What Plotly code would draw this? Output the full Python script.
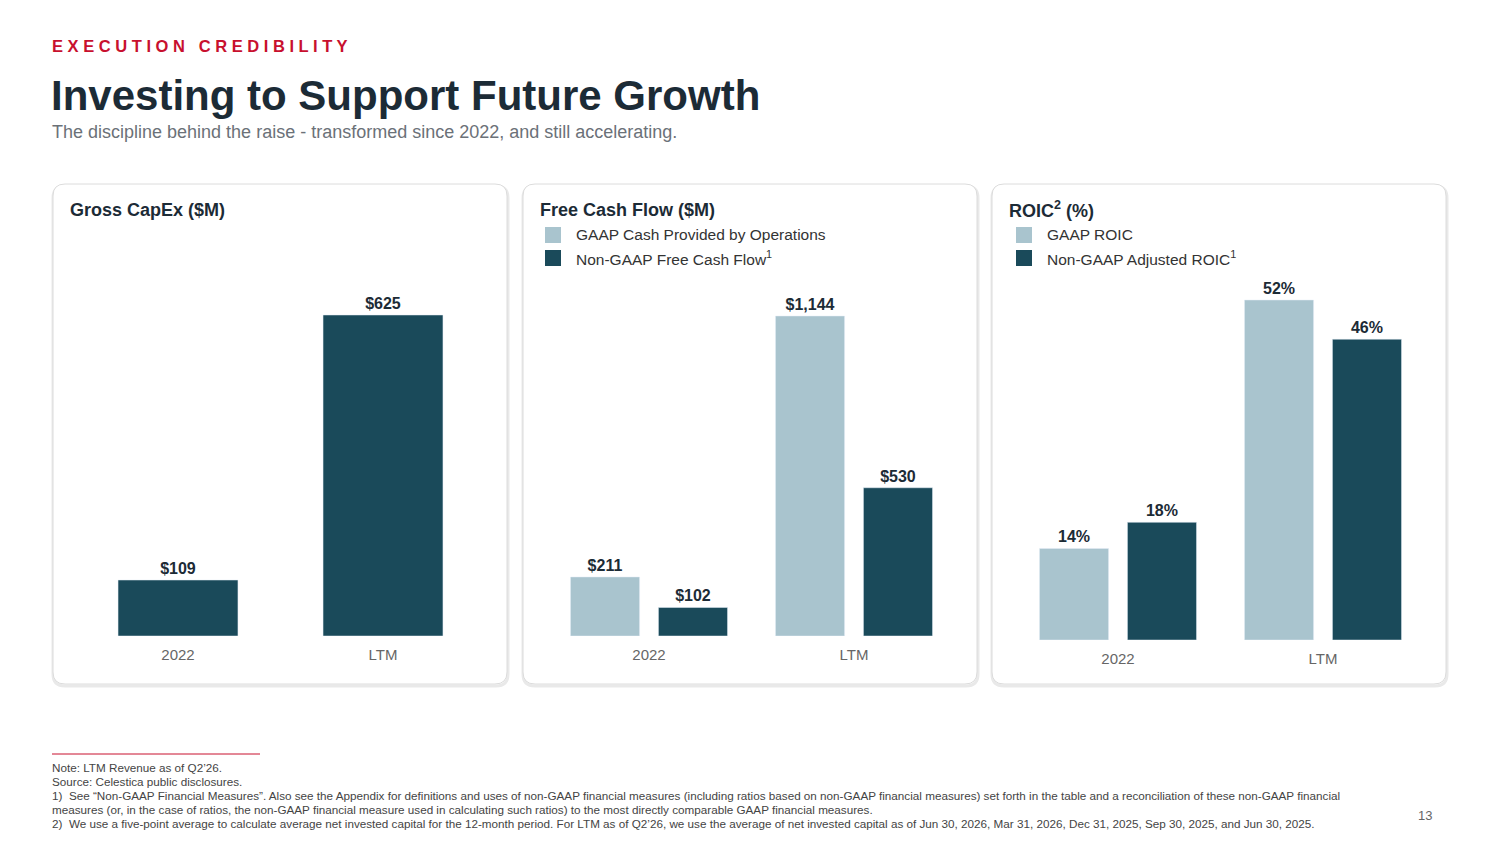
import plotly.graph_objects as go

W, H = 1500, 844
OFF = 8
categories = ["2022", "LTM"]
capex = [109, 625]
fcf_gaap = [211, 1144]
fcf_nongaap = [102, 530]
roic_gaap = [14, 52]
roic_nongaap = [18, 46]
capex_labels = ["$109", "$625"]
fcf_gaap_labels = ["$211", "$1,144"]
fcf_nongaap_labels = ["$102", "$530"]
roic_gaap_labels = ["14%", "52%"]
roic_nongaap_labels = ["18%", "46%"]

DARK = "#1a4a5a"
LIGHT = "#a9c4ce"
FONT = "Liberation Sans, Arial, sans-serif"

def px(x): return (x - OFF) / W
def py(y): return 1 - (y - OFF) / H

fig = go.Figure()
lab = dict(size=16, color="#1c2b36", family=FONT)

fig.add_trace(go.Bar(x=categories, y=capex, marker_color=DARK, width=0.585,
                     text=[f"<b>{s}</b>" for s in capex_labels], textposition="outside", textfont=lab,
                     cliponaxis=False, xaxis="x", yaxis="y"))
for vals, labels, col, off, xa, ya in [
    (fcf_gaap, fcf_gaap_labels, LIGHT, -0.383, "x2", "y2"),
    (fcf_nongaap, fcf_nongaap_labels, DARK, 0.046, "x2", "y2"),
    (roic_gaap, roic_gaap_labels, LIGHT, -0.383, "x3", "y3"),
    (roic_nongaap, roic_nongaap_labels, DARK, 0.046, "x3", "y3"),
]:
    fig.add_trace(go.Bar(x=categories, y=vals, marker_color=col, width=0.337, offset=off,
                         text=[f"<b>{s}</b>" for s in labels], textposition="outside", textfont=lab,
                         cliponaxis=False, xaxis=xa, yaxis=ya))

def xax(d0, d1, anchor):
    return dict(domain=[px(d0), px(d1)], type="category", range=[-0.5, 1.5], anchor=anchor,
                showgrid=False, zeroline=False, showline=False, ticks="",
                tickfont=dict(size=15, color="#666", family=FONT), ticklabelstandoff=8)
def yax(b, t, mx, anchor):
    return dict(domain=[py(b), py(t)], range=[0, mx], visible=False, fixedrange=True, anchor=anchor)

fig.update_layout(
    width=W, height=H, margin=dict(l=0, r=0, t=0, b=0), showlegend=False,
    paper_bgcolor="white", plot_bgcolor="rgba(0,0,0,0)", barmode="overlay",
    font=dict(family=FONT),
    xaxis=xax(75.5, 485.5, "y"), yaxis=yax(636, 290, 625 * 346 / 321, "x"),
    xaxis2=xax(546.5, 956.5, "y2"), yaxis2=yax(636, 290, 1144 * 346 / 320, "x2"),
    xaxis3=xax(1015.5, 1425.5, "y3"), yaxis3=yax(640, 290, 52 * 350 / 340, "x3"),
)

def rrect(x0, y0, x1, y1, r):
    X0, X1 = px(x0), px(x1); Y0, Y1 = py(y0), py(y1)
    rx, ry = r / W, r / H
    return (f"M{X0+rx},{Y0} L{X1-rx},{Y0} Q{X1},{Y0} {X1},{Y0-ry} L{X1},{Y1+ry} "
            f"Q{X1},{Y1} {X1-rx},{Y1} L{X0+rx},{Y1} Q{X0},{Y1} {X0},{Y1+ry} "
            f"L{X0},{Y0-ry} Q{X0},{Y0} {X0+rx},{Y0} Z")

shapes = []
for x0 in [53, 523, 992]:
    shapes.append(dict(type="path", xref="paper", yref="paper", path=rrect(x0, 186, x0 + 455, 686, 12),
                       line=dict(color="#e9e9e9", width=3), fillcolor="white", layer="below"))
    shapes.append(dict(type="path", xref="paper", yref="paper", path=rrect(x0, 184, x0 + 454, 684, 12),
                       line=dict(color="#dcdcdc", width=1), fillcolor="white", layer="below"))
shapes.append(dict(type="line", xref="paper", yref="paper", x0=px(52), x1=px(260), y0=py(754), y1=py(754),
                   line=dict(color="#c8102e", width=1)))
for lx, ly, col in [(545, 235, LIGHT), (545, 258, DARK), (1016, 235, LIGHT), (1016, 258, DARK)]:
    shapes.append(dict(type="rect", xref="paper", yref="paper", x0=px(lx), x1=px(lx + 16),
                       y0=py(ly - 8), y1=py(ly + 8), fillcolor=col, line=dict(width=0)))
fig.update_layout(shapes=shapes)

ann = []
def t(x, y, s, size, color, bold=False, xanchor="left"):
    ann.append(dict(x=px(x), y=py(y), xref="paper", yref="paper", text=f"<b>{s}</b>" if bold else s,
                    showarrow=False, xanchor=xanchor, yanchor="middle",
                    font=dict(size=size, color=color, family=FONT)))
t(50, 46, "E X E C U T I O N   C R E D I B I L I T Y", 16.5, "#c8102e", True)
t(49, 95, "Investing to Support Future Growth", 42, "#1c2b36", True)
t(50, 132, "The discipline behind the raise - transformed since 2022, and still accelerating.", 18, "#6b7178")
t(68, 210, "Gross CapEx ($M)", 18, "#1c2b36", True)
t(538, 210, "Free Cash Flow ($M)", 18, "#1c2b36", True)
t(1007, 210, "ROIC<sup>2</sup> (%)", 18, "#1c2b36", True)
t(574, 235, "GAAP Cash Provided by Operations", 15.5, "#333")
t(574, 258, "Non-GAAP Free Cash Flow<sup>1</sup>", 15.5, "#333")
t(1045, 235, "GAAP ROIC", 15.5, "#333")
t(1045, 258, "Non-GAAP Adjusted ROIC<sup>1</sup>", 15.5, "#333")
foot = [
    (767, "Note: LTM Revenue as of Q2’26."),
    (781, "Source: Celestica public disclosures."),
    (795, "1)  See “Non-GAAP Financial Measures”. Also see the Appendix for definitions and uses of non-GAAP financial measures (including ratios based on non-GAAP financial measures) set forth in the table and a reconciliation of these non-GAAP financial"),
    (809, "measures (or, in the case of ratios, the non-GAAP financial measure used in calculating such ratios) to the most directly comparable GAAP financial measures."),
    (823, "2)  We use a five-point average to calculate average net invested capital for the 12-month period. For LTM as of Q2’26, we use the average of net invested capital as of Jun 30, 2026, Mar 31, 2026, Dec 31, 2025, Sep 30, 2025, and Jun 30, 2025."),
]
for y, s in foot:
    t(50, y, s, 11.7, "#444")
t(1434, 815, "13", 13, "#666", xanchor="right")
fig.update_layout(annotations=ann)

fig.write_html("out.html")
